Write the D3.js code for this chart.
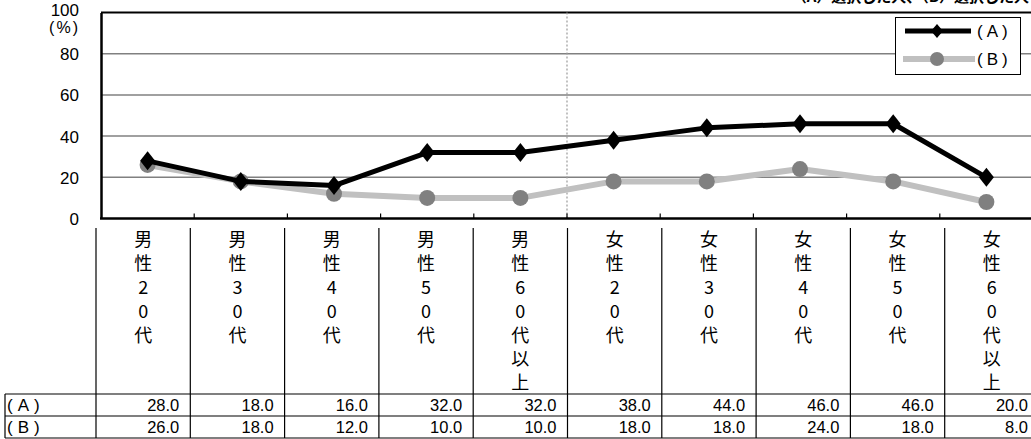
<!DOCTYPE html>
<html>
<head>
<meta charset="utf-8">
<script src="https://cdn.jsdelivr.net/npm/d3@7"></script>
<style>
  html, body { margin: 0; padding: 0; background: #fff; overflow: hidden; }
  svg { display: block; }
  text { font-family: "Liberation Sans", Arial, "Noto Sans CJK JP", sans-serif; fill: #000; }
  .cjk { font-family: "Noto Sans CJK JP", sans-serif; }
</style>
</head>
<body>
<svg id="chart" width="1031" height="439"></svg>
<script>
// Age/gender groups (label characters are stacked vertically)
const categories = ["男性20代", "男性30代", "男性40代", "男性50代", "男性60代以上",
                    "女性20代", "女性30代", "女性40代", "女性50代", "女性60代以上"];
const seriesNames = ["(A)", "(B)"];
const valuesA = [28.0, 18.0, 16.0, 32.0, 32.0, 38.0, 44.0, 46.0, 46.0, 20.0];
const valuesB = [26.0, 18.0, 12.0, 10.0, 10.0, 18.0, 18.0, 24.0, 18.0, 8.0];
const yTicks = [0, 20, 40, 60, 80, 100];
const caption = "（A）選択した人、（B）選択した人";

const svg = d3.select("#chart");

// Plot area
const plot = { left: 101, right: 1033, top: 12.5, bottom: 218.5 };

const x = d3.scaleBand().domain(categories).range([plot.left, plot.right]).padding(0);
const y = d3.scaleLinear().domain([0, 100]).range([plot.bottom, plot.top]);
const cx = c => x(c) + x.bandwidth() / 2;

// Caption running off the top edge
svg.append("text")
  .attr("class", "cjk")
  .attr("x", 1029).attr("y", 2)
  .attr("text-anchor", "end")
  .attr("font-size", 15).attr("font-weight", "bold")
  .text(caption);

// Gridlines
svg.append("g")
  .selectAll("line")
  .data(yTicks.filter(t => t > 0 && t < 100))
  .join("line")
  .attr("x1", plot.left).attr("x2", plot.right)
  .attr("y1", d => y(d)).attr("y2", d => y(d))
  .attr("stroke", "#808080").attr("stroke-width", 1.5);

// Top border
svg.append("line")
  .attr("x1", plot.left).attr("x2", plot.right)
  .attr("y1", y(100)).attr("y2", y(100))
  .attr("stroke", "#000").attr("stroke-width", 2);

// Dotted divider between male and female groups
svg.append("line")
  .attr("x1", x(categories[5])).attr("x2", x(categories[5]))
  .attr("y1", y(100)).attr("y2", y(0))
  .attr("stroke", "#999").attr("stroke-width", 1.2)
  .attr("stroke-dasharray", "2,2");

// Y axis
const yAxis = d3.axisLeft(y).tickValues(yTicks).tickSize(0).tickPadding(22);
const gy = svg.append("g").attr("transform", `translate(${plot.left},0)`).call(yAxis);
gy.select(".domain").attr("stroke", "#000").attr("stroke-width", 2.5);
gy.selectAll("text").attr("font-size", 17).attr("font-family", "'Liberation Sans', Arial, sans-serif")
  .attr("dy", "0.35em");
gy.selectAll(".tick").filter(d => d === 100).select("text").attr("dy", "0.15em");

svg.append("text")
  .attr("x", 80).attr("y", 33)
  .attr("text-anchor", "end")
  .attr("font-size", 16)
  .attr("letter-spacing", 2)
  .text("(%)");

// X axis: baseline with inward ticks at band boundaries
const boundaries = categories.slice(1).map(c => x(c));
svg.append("g")
  .selectAll("line")
  .data(boundaries)
  .join("line")
  .attr("x1", d => d).attr("x2", d => d)
  .attr("y1", y(0) - 5).attr("y2", y(0))
  .attr("stroke", "#000").attr("stroke-width", 1.2);
svg.append("line")
  .attr("x1", plot.left - 1).attr("x2", plot.right)
  .attr("y1", y(0)).attr("y2", y(0))
  .attr("stroke", "#000").attr("stroke-width", 2.5);

// Markers
const diamondPath = "M0,-9.5L7.5,0L0,9.5L-7.5,0Z";

// Series B: light line with grey circles
const lineGen = d3.line().x((d, i) => cx(categories[i])).y(d => y(d));
svg.append("path")
  .datum(valuesB)
  .attr("d", lineGen)
  .attr("fill", "none")
  .attr("stroke", "#c0c0c0").attr("stroke-width", 6)
  .attr("stroke-linejoin", "round");
svg.append("g")
  .selectAll("circle")
  .data(valuesB)
  .join("circle")
  .attr("cx", (d, i) => cx(categories[i]))
  .attr("cy", d => y(d))
  .attr("r", 8)
  .attr("fill", "#808080");

// Series A: black line with diamonds
svg.append("path")
  .datum(valuesA)
  .attr("d", lineGen)
  .attr("fill", "none")
  .attr("stroke", "#000").attr("stroke-width", 5)
  .attr("stroke-linejoin", "round");
svg.append("g")
  .selectAll("path")
  .data(valuesA)
  .join("path")
  .attr("d", diamondPath)
  .attr("transform", (d, i) => `translate(${cx(categories[i])},${y(d)})`)
  .attr("fill", "#000");

// Legend
const legend = svg.append("g");
legend.append("rect")
  .attr("x", 895.5).attr("y", 17.5).attr("width", 125).attr("height", 57)
  .attr("fill", "#fff").attr("stroke", "#000").attr("stroke-width", 1);
legend.append("line").attr("x1", 905).attr("x2", 971).attr("y1", 31).attr("y2", 31)
  .attr("stroke", "#000").attr("stroke-width", 5);
legend.append("path").attr("d", "M0,-7L6,0L0,7L-6,0Z")
  .attr("transform", "translate(937,31)").attr("fill", "#000");
legend.append("line").attr("x1", 903).attr("x2", 975).attr("y1", 59).attr("y2", 59)
  .attr("stroke", "#c0c0c0").attr("stroke-width", 6);
legend.append("circle").attr("cx", 937).attr("cy", 59).attr("r", 7).attr("fill", "#808080");
legend.selectAll("text.lg")
  .data(seriesNames)
  .join("text")
  .attr("class", "lg")
  .attr("x", 977).attr("y", (d, i) => 31 + i * 28)
  .attr("dy", "0.36em")
  .attr("font-size", 17)
  .attr("letter-spacing", 4)
  .text(d => d);

// Data table below the chart
const table = { left: 5, colLeft: 96, colW: 94.3, labelTop: 228, rowA: 394, rowH: 22 };
const colX = i => table.colLeft + i * table.colW;
const tg = svg.append("g");

// Vertical column separators through the label area and rows
tg.selectAll("line.v")
  .data(d3.range(categories.length + 1))
  .join("line")
  .attr("class", "v")
  .attr("x1", i => colX(i)).attr("x2", i => colX(i))
  .attr("y1", table.labelTop).attr("y2", table.rowA + 2 * table.rowH)
  .attr("stroke", "#000").attr("stroke-width", 1.2);

// Row borders
[0, 1, 2].forEach(r => {
  tg.append("line")
    .attr("x1", table.left).attr("x2", colX(categories.length))
    .attr("y1", table.rowA + r * table.rowH).attr("y2", table.rowA + r * table.rowH)
    .attr("stroke", "#000").attr("stroke-width", 1.2);
});
tg.append("line")
  .attr("x1", table.left).attr("x2", table.left)
  .attr("y1", table.rowA).attr("y2", table.rowA + 2 * table.rowH)
  .attr("stroke", "#000").attr("stroke-width", 1.2);

// Stacked category labels
categories.forEach((c, i) => {
  const chars = Array.from(c);
  tg.append("g")
    .selectAll("text")
    .data(chars)
    .join("text")
    .attr("class", "cjk")
    .attr("x", colX(i) + table.colW / 2)
    .attr("y", (d, k) => 240 + k * 23.8)
    .attr("dy", "0.36em")
    .attr("text-anchor", "middle")
    .attr("font-size", 18)
    .text(d => d);
});

// Row headers and values
[valuesA, valuesB].forEach((vals, r) => {
  const yy = table.rowA + r * table.rowH + table.rowH / 2;
  tg.append("text")
    .attr("x", table.left + 2).attr("y", yy)
    .attr("dy", "0.36em")
    .attr("font-size", 17)
    .attr("letter-spacing", 5)
    .text(seriesNames[r]);
  tg.selectAll(`text.val${r}`)
    .data(vals)
    .join("text")
    .attr("class", `val${r}`)
    .attr("x", (d, i) => colX(i + 1) - 11)
    .attr("y", yy)
    .attr("dy", "0.36em")
    .attr("text-anchor", "end")
    .attr("font-size", 16.5)
    .text(d => d3.format(".1f")(d));
});
</script>
</body>
</html>
